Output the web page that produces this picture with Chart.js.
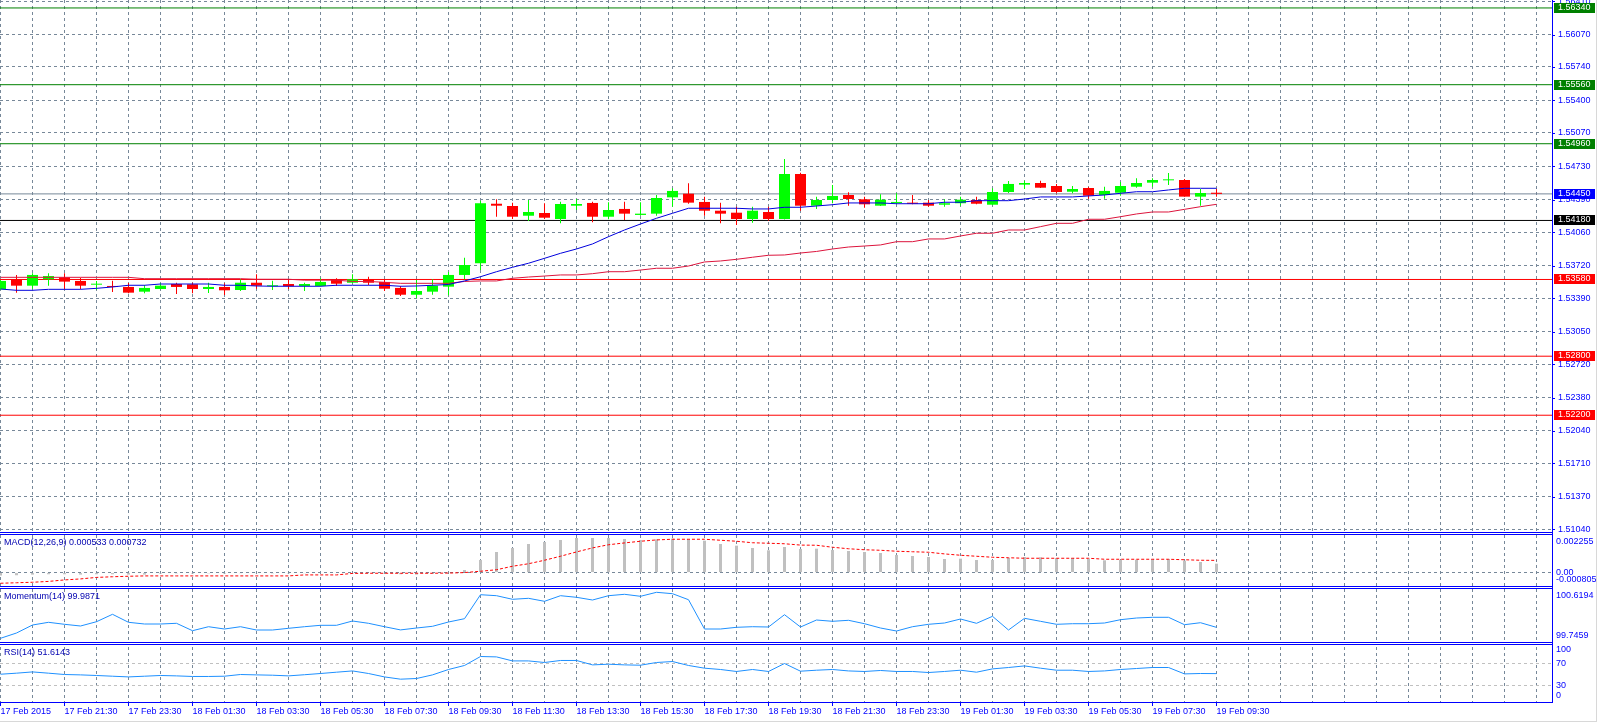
<!DOCTYPE html>
<html>
<head>
<meta charset="utf-8">
<script src="https://cdn.jsdelivr.net/npm/chart.js@4.4.1/dist/chart.umd.min.js"></script>
<style>
  html, body { margin: 0; padding: 0; background: #fff; }
  #wrap { position: relative; width: 1601px; height: 728px; overflow: hidden; background: #fff; }
  canvas { position: absolute; left: 0; }
  .ln { position: absolute; background: #0000ff; }
  .gr { position: absolute; background: #d8d8d8; }
</style>
</head>
<body>
<div id="wrap">
  <canvas id="main" width="1601" height="532" style="top:0px"></canvas>
  <canvas id="macd" width="1601" height="51" style="top:535px"></canvas>
  <canvas id="mom" width="1601" height="53" style="top:589px"></canvas>
  <canvas id="rsi" width="1601" height="83" style="top:645px"></canvas>

  <div class="ln" style="left:0;top:532px;width:1553px;height:1px"></div>
  <div class="ln" style="left:0;top:534px;width:1553px;height:1px"></div>
  <div class="ln" style="left:0;top:586px;width:1553px;height:1px"></div>
  <div class="ln" style="left:0;top:588px;width:1553px;height:1px"></div>
  <div class="ln" style="left:0;top:642px;width:1553px;height:1px"></div>
  <div class="ln" style="left:0;top:644px;width:1553px;height:1px"></div>
  <div class="ln" style="left:0;top:702px;width:1553px;height:1px"></div>
  <div class="ln" style="left:1552px;top:0;width:1px;height:703px"></div>
  <div class="gr" style="left:0;top:721px;width:1597px;height:1px"></div>
  <div class="gr" style="left:1596px;top:0;width:1px;height:722px"></div>
</div>

<script>
// GBPUSD-style M30 candles, 17 Feb 19:30 .. 19 Feb 09:30
const timeLabels = ['17 Feb 2015', '17 Feb 21:30', '17 Feb 23:30', '18 Feb 01:30', '18 Feb 03:30',
  '18 Feb 05:30', '18 Feb 07:30', '18 Feb 09:30', '18 Feb 11:30', '18 Feb 13:30', '18 Feb 15:30',
  '18 Feb 17:30', '18 Feb 19:30', '18 Feb 21:30', '18 Feb 23:30', '19 Feb 01:30', '19 Feb 03:30',
  '19 Feb 05:30', '19 Feb 07:30', '19 Feb 09:30'];

const priceTicks = [1.51040, 1.51370, 1.51710, 1.52040, 1.52380, 1.52720, 1.53050, 1.53390,
  1.53720, 1.54060, 1.54390, 1.54730, 1.55070, 1.55400, 1.55740, 1.56070, 1.56410];

const open = [1.53480,1.53582,1.53517,1.53582,1.53602,1.53565,1.53527,1.53514,1.53504,1.53456,
  1.53483,1.53534,1.53531,1.53483,1.53504,1.53473,1.53547,1.53511,1.53534,1.53514,
  1.53514,1.53582,1.53547,1.53582,1.53555,1.53494,1.53425,1.53456,1.53507,1.53626,
  1.53745,1.54350,1.54327,1.54228,1.54256,1.54195,1.54330,1.54358,1.54218,1.54297,
  1.54236,1.54249,1.54415,1.54452,1.54368,1.54279,1.54259,1.54195,1.54266,1.54195,
  1.54652,1.54330,1.54388,1.54439,1.54395,1.54330,1.54358,1.54361,1.54361,1.54340,
  1.54355,1.54388,1.54340,1.54469,1.54544,1.54561,1.54530,1.54472,1.54510,1.54439,
  1.54462,1.54523,1.54564,1.54588,1.54591,1.54422,1.54462];
const high = [1.53575,1.53626,1.53643,1.53643,1.53643,1.53598,1.53565,1.53568,1.53544,1.53524,
  1.53541,1.53547,1.53547,1.53547,1.53541,1.53582,1.53633,1.53568,1.53582,1.53547,
  1.53592,1.53592,1.53633,1.53608,1.53585,1.53514,1.53575,1.53582,1.53656,1.53802,
  1.54381,1.54395,1.54361,1.54388,1.54355,1.54371,1.54398,1.54371,1.54365,1.54371,
  1.54365,1.54439,1.54507,1.54558,1.54422,1.54361,1.54320,1.54320,1.54320,1.54805,
  1.54665,1.54422,1.54541,1.54466,1.54422,1.54446,1.54456,1.54439,1.54388,1.54395,
  1.54422,1.54422,1.54507,1.54581,1.54584,1.54584,1.54551,1.54530,1.54520,1.54523,
  1.54571,1.54609,1.54609,1.54663,1.54601,1.54500,1.54500];
const low = [1.53473,1.53446,1.53486,1.53517,1.53480,1.53480,1.53473,1.53453,1.53440,1.53440,
  1.53480,1.53433,1.53440,1.53443,1.53422,1.53463,1.53486,1.53473,1.53483,1.53463,
  1.53509,1.53514,1.53541,1.53521,1.53463,1.53412,1.53389,1.53425,1.53419,1.53582,
  1.53676,1.54218,1.54195,1.54175,1.54195,1.54151,1.54286,1.54161,1.54192,1.54185,
  1.54228,1.54228,1.54320,1.54350,1.54228,1.54151,1.54134,1.54157,1.54178,1.54190,
  1.54279,1.54297,1.54355,1.54330,1.54310,1.54327,1.54347,1.54344,1.54320,1.54320,
  1.54330,1.54344,1.54334,1.54459,1.54500,1.54510,1.54456,1.54456,1.54401,1.54401,
  1.54432,1.54513,1.54523,1.54541,1.54420,1.54330,1.54422];
const close = [1.53565,1.53517,1.53626,1.53615,1.53558,1.53517,1.53537,1.53504,1.53446,1.53494,
  1.53517,1.53504,1.53483,1.53504,1.53470,1.53547,1.53517,1.53521,1.53511,1.53534,
  1.53555,1.53537,1.53582,1.53547,1.53486,1.53425,1.53463,1.53517,1.53626,1.53727,
  1.54355,1.54330,1.54218,1.54266,1.54208,1.54347,1.54347,1.54218,1.54286,1.54249,
  1.54249,1.54408,1.54480,1.54361,1.54279,1.54249,1.54195,1.54279,1.54195,1.54652,
  1.54330,1.54388,1.54429,1.54398,1.54344,1.54391,1.54368,1.54350,1.54330,1.54355,
  1.54391,1.54350,1.54469,1.54551,1.54561,1.54513,1.54469,1.54500,1.54432,1.54480,
  1.54530,1.54561,1.54591,1.54594,1.54422,1.54459,1.54450];

const maFast = [1.53483,1.53470,1.53470,1.53480,1.53480,1.53480,1.53490,1.53504,1.53521,1.53521,
  1.53534,1.53534,1.53534,1.53534,1.53521,1.53521,1.53514,1.53511,1.53511,1.53511,
  1.53511,1.53521,1.53521,1.53521,1.53521,1.53511,1.53514,1.53521,1.53529,1.53565,
  1.53608,1.53659,1.53704,1.53745,1.53795,1.53846,1.53890,1.53941,1.54015,1.54083,
  1.54144,1.54202,1.54253,1.54304,1.54304,1.54304,1.54304,1.54297,1.54297,1.54314,
  1.54314,1.54327,1.54340,1.54358,1.54358,1.54358,1.54350,1.54350,1.54350,1.54365,
  1.54365,1.54381,1.54381,1.54381,1.54398,1.54419,1.54419,1.54419,1.54429,1.54439,
  1.54456,1.54472,1.54472,1.54490,1.54507,1.54507,1.54507];
const maSlow = [1.53602,1.53602,1.53602,1.53602,1.53602,1.53602,1.53602,1.53602,1.53602,1.53588,
  1.53588,1.53588,1.53588,1.53588,1.53588,1.53588,1.53582,1.53582,1.53582,1.53573,
  1.53573,1.53573,1.53560,1.53560,1.53551,1.53541,1.53541,1.53541,1.53541,1.53560,
  1.53565,1.53565,1.53592,1.53605,1.53615,1.53626,1.53626,1.53639,1.53659,1.53659,
  1.53676,1.53694,1.53694,1.53717,1.53758,1.53768,1.53785,1.53806,1.53826,1.53829,
  1.53849,1.53865,1.53890,1.53910,1.53920,1.53931,1.53964,1.53964,1.53992,1.53992,
  1.54022,1.54050,1.54050,1.54083,1.54083,1.54117,1.54151,1.54151,1.54192,1.54192,
  1.54218,1.54246,1.54266,1.54266,1.54293,1.54320,1.54344];

// horizontal levels
const resistance = [1.56340, 1.55560, 1.54960];
const support = [1.53580, 1.52800, 1.52200];
const pivot = 1.54180;
const bid = 1.54450;

const macdHist = [-0.00018,-0.00016,-0.00012,-0.00010,-0.00010,-0.00012,-0.00010,-0.00010,-0.00012,-0.00012,
  -0.00006,-0.00005,-0.00006,-0.00005,-0.00006,-0.00004,-0.00004,-0.00005,-0.00005,-0.00004,
  -0.00003,-0.00003,-0.00002,-0.00003,-0.00005,-0.00010,-0.00012,-0.00008,0.00002,0.000156,
  0.000756,0.001236,0.001476,0.001716,0.001836,0.001956,0.002076,0.002076,0.002076,0.002016,
  0.001956,0.001998,0.002034,0.002016,0.001914,0.001716,0.001614,0.001476,0.001338,0.001536,
  0.001416,0.001434,0.001356,0.001296,0.001236,0.001176,0.001056,0.000996,0.000936,0.000816,
  0.000834,0.000756,0.000756,0.000876,0.000936,0.000918,0.000876,0.000876,0.000834,0.000738,
  0.000756,0.000774,0.000816,0.000816,0.000714,0.000636,0.000533];
const macdSignal = [-0.00064,-0.00061,-0.00058,-0.00053,-0.00044,-0.00038,-0.00029,-0.00025,-0.00022,-0.00020,
  -0.00020,-0.00020,-0.00020,-0.00020,-0.00020,-0.00020,-0.00020,-0.00020,-0.00020,-0.00014,
  -0.00014,-0.00014,-0.00005,-0.00004,-0.00004,-0.00004,-0.00004,-0.00004,-0.00003,0.00000,
  0.00008,0.00017,0.00038,0.00053,0.00074,0.00098,0.00124,0.00148,0.00167,0.00178,
  0.00188,0.00196,0.00200,0.00200,0.00200,0.00194,0.00188,0.00179,0.00176,0.00173,
  0.00165,0.00164,0.00152,0.00143,0.00137,0.00134,0.00128,0.00125,0.00122,0.00112,
  0.00104,0.00098,0.00092,0.00089,0.00086,0.00086,0.00086,0.00086,0.00086,0.00080,
  0.00080,0.00080,0.00080,0.00080,0.00077,0.00074,0.000732];
const macdRange = [-0.000805, 0.002255];

const momentum = [99.8068,99.8942,100.0260,100.0705,100.0376,100.0095,100.0804,100.2024,100.0705,100.0425,
  100.0425,100.0540,99.9321,99.9980,99.9601,99.9980,99.9436,99.9436,99.9716,99.9980,
  100.0211,100.0211,100.0920,100.0540,99.9980,99.9450,99.9766,100.0046,100.0755,100.1299,
  100.5254,100.5090,100.4496,100.4661,100.4167,100.5090,100.4826,100.4381,100.5090,100.5320,
  100.4991,100.5650,100.5419,100.4430,99.9601,99.9601,99.9881,99.9980,99.9931,100.1958,
  99.9931,100.1084,100.0870,100.1035,100.0474,99.9766,99.9271,99.9980,100.0376,100.0590,
  100.1249,100.0540,100.1694,99.9436,100.1365,100.0870,100.0376,100.0474,100.0474,100.0590,
  100.1134,100.1414,100.1529,100.1529,100.0310,100.0639,99.9871];
const momRange = [99.7459, 100.6194];

const rsi = [50.5,52.4,54.7,52.4,50.0,49.3,48.2,46.9,45.6,46.9,
  48.2,47.5,46.4,46.4,46.9,50.0,49.3,48.7,47.5,49.6,
  51.8,54.2,56.5,51.8,45.6,41.5,42.7,49.3,59.1,66.4,
  82.7,82.0,74.7,74.7,71.8,75.5,75.5,67.5,68.7,67.5,
  66.9,71.8,73.6,66.4,61.5,59.1,55.5,59.1,55.5,70.0,
  56.0,57.8,59.1,56.5,55.5,57.3,55.5,55.5,53.6,55.5,
  57.8,54.2,60.2,62.7,65.6,61.5,57.8,57.8,55.5,56.5,
  59.1,60.9,62.7,62.7,51.1,51.8,51.6143];
const rsiLevels = [70, 30];

// ---- styles ----
const GRID = '#778899';
const AXIS_TXT = '#0000ff';
const TITLE_TXT = '#0000b0';
const BULL = '#00ff00';
const BEAR = '#ff0000';
const FONT = { family: "'Liberation Sans', Arial, sans-serif", size: 9 };
const FONT_CSS = "9px 'Liberation Sans', Arial, sans-serif";
const X_MIN = -0.03125;          // half a pixel so bars land on whole pixels
const X_MAX = X_MIN + 97;        // 97 bar slots across the plot
const P_MIN = 1.51013, P_MAX = 1.56421;

const last = close.length - 1;
const xy = arr => arr.map((v, i) => ({ x: i, y: v }));
const candleColor = open.map((o, i) => close[i] >= o ? BULL : BEAR);

const gridBars = [];
for (let b = 0; b <= 96; b += 2) gridBars.push(b);

function xAxis(showLabels) {
  return {
    type: 'linear', min: X_MIN, max: X_MAX, offset: false,
    grid: { color: GRID, drawTicks: false, offset: false },
    border: { display: false, dash: [3, 3] },
    afterBuildTicks: s => { s.ticks = gridBars.map(v => ({ value: v })); },
    ticks: {
      display: showLabels, autoSkip: false, maxRotation: 0, minRotation: 0,
      align: 'start', padding: 4, color: AXIS_TXT, font: FONT,
      callback: v => (v % 4 === 0 && timeLabels[v / 4] !== undefined) ? timeLabels[v / 4] : ''
    },
    afterFit: s => { s.height = showLabels ? 26 : 0; s.paddingLeft = 0; s.paddingRight = 0; }
  };
}

function fixY(s) { s.width = 49; s.paddingTop = 0; s.paddingBottom = 0; }

const baseOpts = {
  responsive: false, animation: false, devicePixelRatio: 1, events: [],
  plugins: { legend: { display: false }, tooltip: { enabled: false } }
};

// labels on the right of an indicator window + indicator name
function panelPlugin(title, marks, padTop, padBottom) {
  return {
    id: 'panel',
    afterDraw(chart) {
      const { ctx, chartArea, scales } = chart;
      ctx.save();
      ctx.font = FONT_CSS;
      ctx.textAlign = 'left';
      ctx.textBaseline = 'middle';
      ctx.fillStyle = TITLE_TXT;
      ctx.fillText(title, 4, 8);
      ctx.fillStyle = AXIS_TXT;
      marks.forEach(m => {
        let y = scales.y.getPixelForValue(m[0]);
        y = Math.min(Math.max(y, chartArea.top + padTop), chartArea.bottom - padBottom);
        ctx.fillText(m[1], chartArea.right + 4, y);
      });
      ctx.restore();
    }
  };
}

// ---- main price window ----
const levelMarks = [];
resistance.forEach(v => levelMarks.push({ v: v, line: '#008000', box: '#008000' }));
support.forEach(v => levelMarks.push({ v: v, line: '#ff0000', box: '#ff0000' }));
levelMarks.push({ v: pivot, line: '#000000', box: '#000000' });
levelMarks.push({ v: bid, line: '#778899', box: '#0000ff' });

const boxPlugin = {
  id: 'boxes',
  afterDraw(chart) {
    const { ctx, chartArea, scales: { y } } = chart;
    ctx.save();
    ctx.fillStyle = AXIS_TXT;
    priceTicks.forEach(v => ctx.fillRect(chartArea.right, Math.round(y.getPixelForValue(v)), 3, 1));
    ctx.font = FONT_CSS;
    ctx.textBaseline = 'middle';
    levelMarks.forEach(m => {
      const py = Math.round(y.getPixelForValue(m.v));
      ctx.fillStyle = m.box;
      ctx.fillRect(chartArea.right + 2, py - 5, 41, 10);
      ctx.fillStyle = '#ffffff';
      ctx.fillText(m.v.toFixed(5), chartArea.right + 6, py);
    });
    ctx.restore();
  }
};

const levelSets = levelMarks.map(m => ({
  type: 'line', data: [{ x: X_MIN, y: m.v }, { x: X_MAX, y: m.v }],
  borderColor: m.line, borderWidth: 1, pointRadius: 0, order: 5
}));

new Chart(document.getElementById('main'), {
  type: 'bar',
  data: {
    datasets: [
      { type: 'line', data: xy(maFast), borderColor: '#0000dd', borderWidth: 1, pointRadius: 0, tension: 0, order: 0 },
      { type: 'line', data: xy(maSlow), borderColor: '#dc143c', borderWidth: 1, pointRadius: 0, tension: 0, order: 0 },
      { data: open.map((o, i) => ({ x: i, y: [o, close[i]] })), backgroundColor: candleColor,
        barThickness: 11, minBarLength: 1, grouped: false, inflateAmount: 0, borderWidth: 0, order: 1 },
      { data: low.map((l, i) => ({ x: i, y: [l, high[i]] })), backgroundColor: candleColor,
        barThickness: 1, grouped: false, inflateAmount: 0, borderWidth: 0, order: 2 },
      ...levelSets
    ]
  },
  options: Object.assign({}, baseOpts, {
    scales: {
      x: xAxis(false),
      y: {
        position: 'right', min: P_MIN, max: P_MAX,
        grid: { color: GRID, drawTicks: false },
        border: { display: false, dash: [3, 3] },
        afterBuildTicks: s => { s.ticks = priceTicks.map(v => ({ value: v })); },
        ticks: { color: AXIS_TXT, font: FONT, padding: 6, callback: v => Number(v).toFixed(5) },
        afterFit: fixY
      }
    }
  }),
  plugins: [boxPlugin]
});

// ---- MACD ----
new Chart(document.getElementById('macd'), {
  type: 'bar',
  data: {
    datasets: [
      { type: 'line', data: xy(macdSignal), borderColor: '#ff0000', borderWidth: 1, borderDash: [3, 2],
        pointRadius: 0, tension: 0, order: 0 },
      { data: xy(macdHist), backgroundColor: '#c0c0c0', barThickness: 3, grouped: false,
        inflateAmount: 0, borderWidth: 0, order: 1 }
    ]
  },
  options: Object.assign({}, baseOpts, {
    scales: {
      x: xAxis(false),
      y: {
        position: 'right', min: macdRange[0], max: macdRange[1],
        grid: { color: GRID, drawTicks: false },
        border: { display: false, dash: [3, 3] },
        afterBuildTicks: s => { s.ticks = [{ value: 0 }]; },
        ticks: { display: false },
        afterFit: fixY
      }
    }
  }),
  plugins: [panelPlugin('MACD(12,26,9) ' + macdHist[last].toFixed(6) + ' ' + macdSignal[last].toFixed(6),
    [[macdRange[1], macdRange[1].toFixed(6)], [0, '0.00'], [macdRange[0], macdRange[0].toFixed(6)]], 7, 6)]
});

// ---- Momentum ----
new Chart(document.getElementById('mom'), {
  type: 'line',
  data: {
    datasets: [
      { data: xy(momentum), borderColor: '#1e90ff', borderWidth: 1, pointRadius: 0, tension: 0 }
    ]
  },
  options: Object.assign({}, baseOpts, {
    scales: {
      x: xAxis(false),
      y: {
        position: 'right', min: momRange[0], max: momRange[1],
        grid: { display: false }, border: { display: false },
        ticks: { display: false },
        afterFit: fixY
      }
    }
  }),
  plugins: [panelPlugin('Momentum(14) ' + momentum[last].toFixed(4),
    [[momRange[1], momRange[1].toFixed(4)], [momRange[0], momRange[0].toFixed(4)]], 7, 6)]
});

// ---- RSI + time axis ----
const timeTickPlugin = {
  id: 'timeTicks',
  afterDraw(chart) {
    const { ctx, chartArea, scales: { x } } = chart;
    ctx.save();
    ctx.fillStyle = AXIS_TXT;
    timeLabels.forEach((t, k) => {
      const px = x.getPixelForValue(k * 4);
      ctx.fillRect(Math.round(px - 0.5), chartArea.bottom, 1, 4);
    });
    ctx.restore();
  }
};

new Chart(document.getElementById('rsi'), {
  type: 'line',
  data: {
    datasets: [
      { data: xy(rsi), borderColor: '#1e90ff', borderWidth: 1, pointRadius: 0, tension: 0 }
    ]
  },
  options: Object.assign({}, baseOpts, {
    layout: { padding: { top: 2 } },
    scales: {
      x: xAxis(true),
      y: {
        position: 'right', min: 0, max: 100,
        grid: { color: '#c0c0c0', drawTicks: false },
        border: { display: false, dash: [3, 3] },
        afterBuildTicks: s => { s.ticks = rsiLevels.map(v => ({ value: v })); },
        ticks: { display: false },
        afterFit: fixY
      }
    }
  }),
  plugins: [panelPlugin('RSI(14) ' + rsi[last].toFixed(4),
    [[100, '100'], [70, '70'], [30, '30'], [0, '0']], 3, 6), timeTickPlugin]
});
</script>
</body>
</html>
